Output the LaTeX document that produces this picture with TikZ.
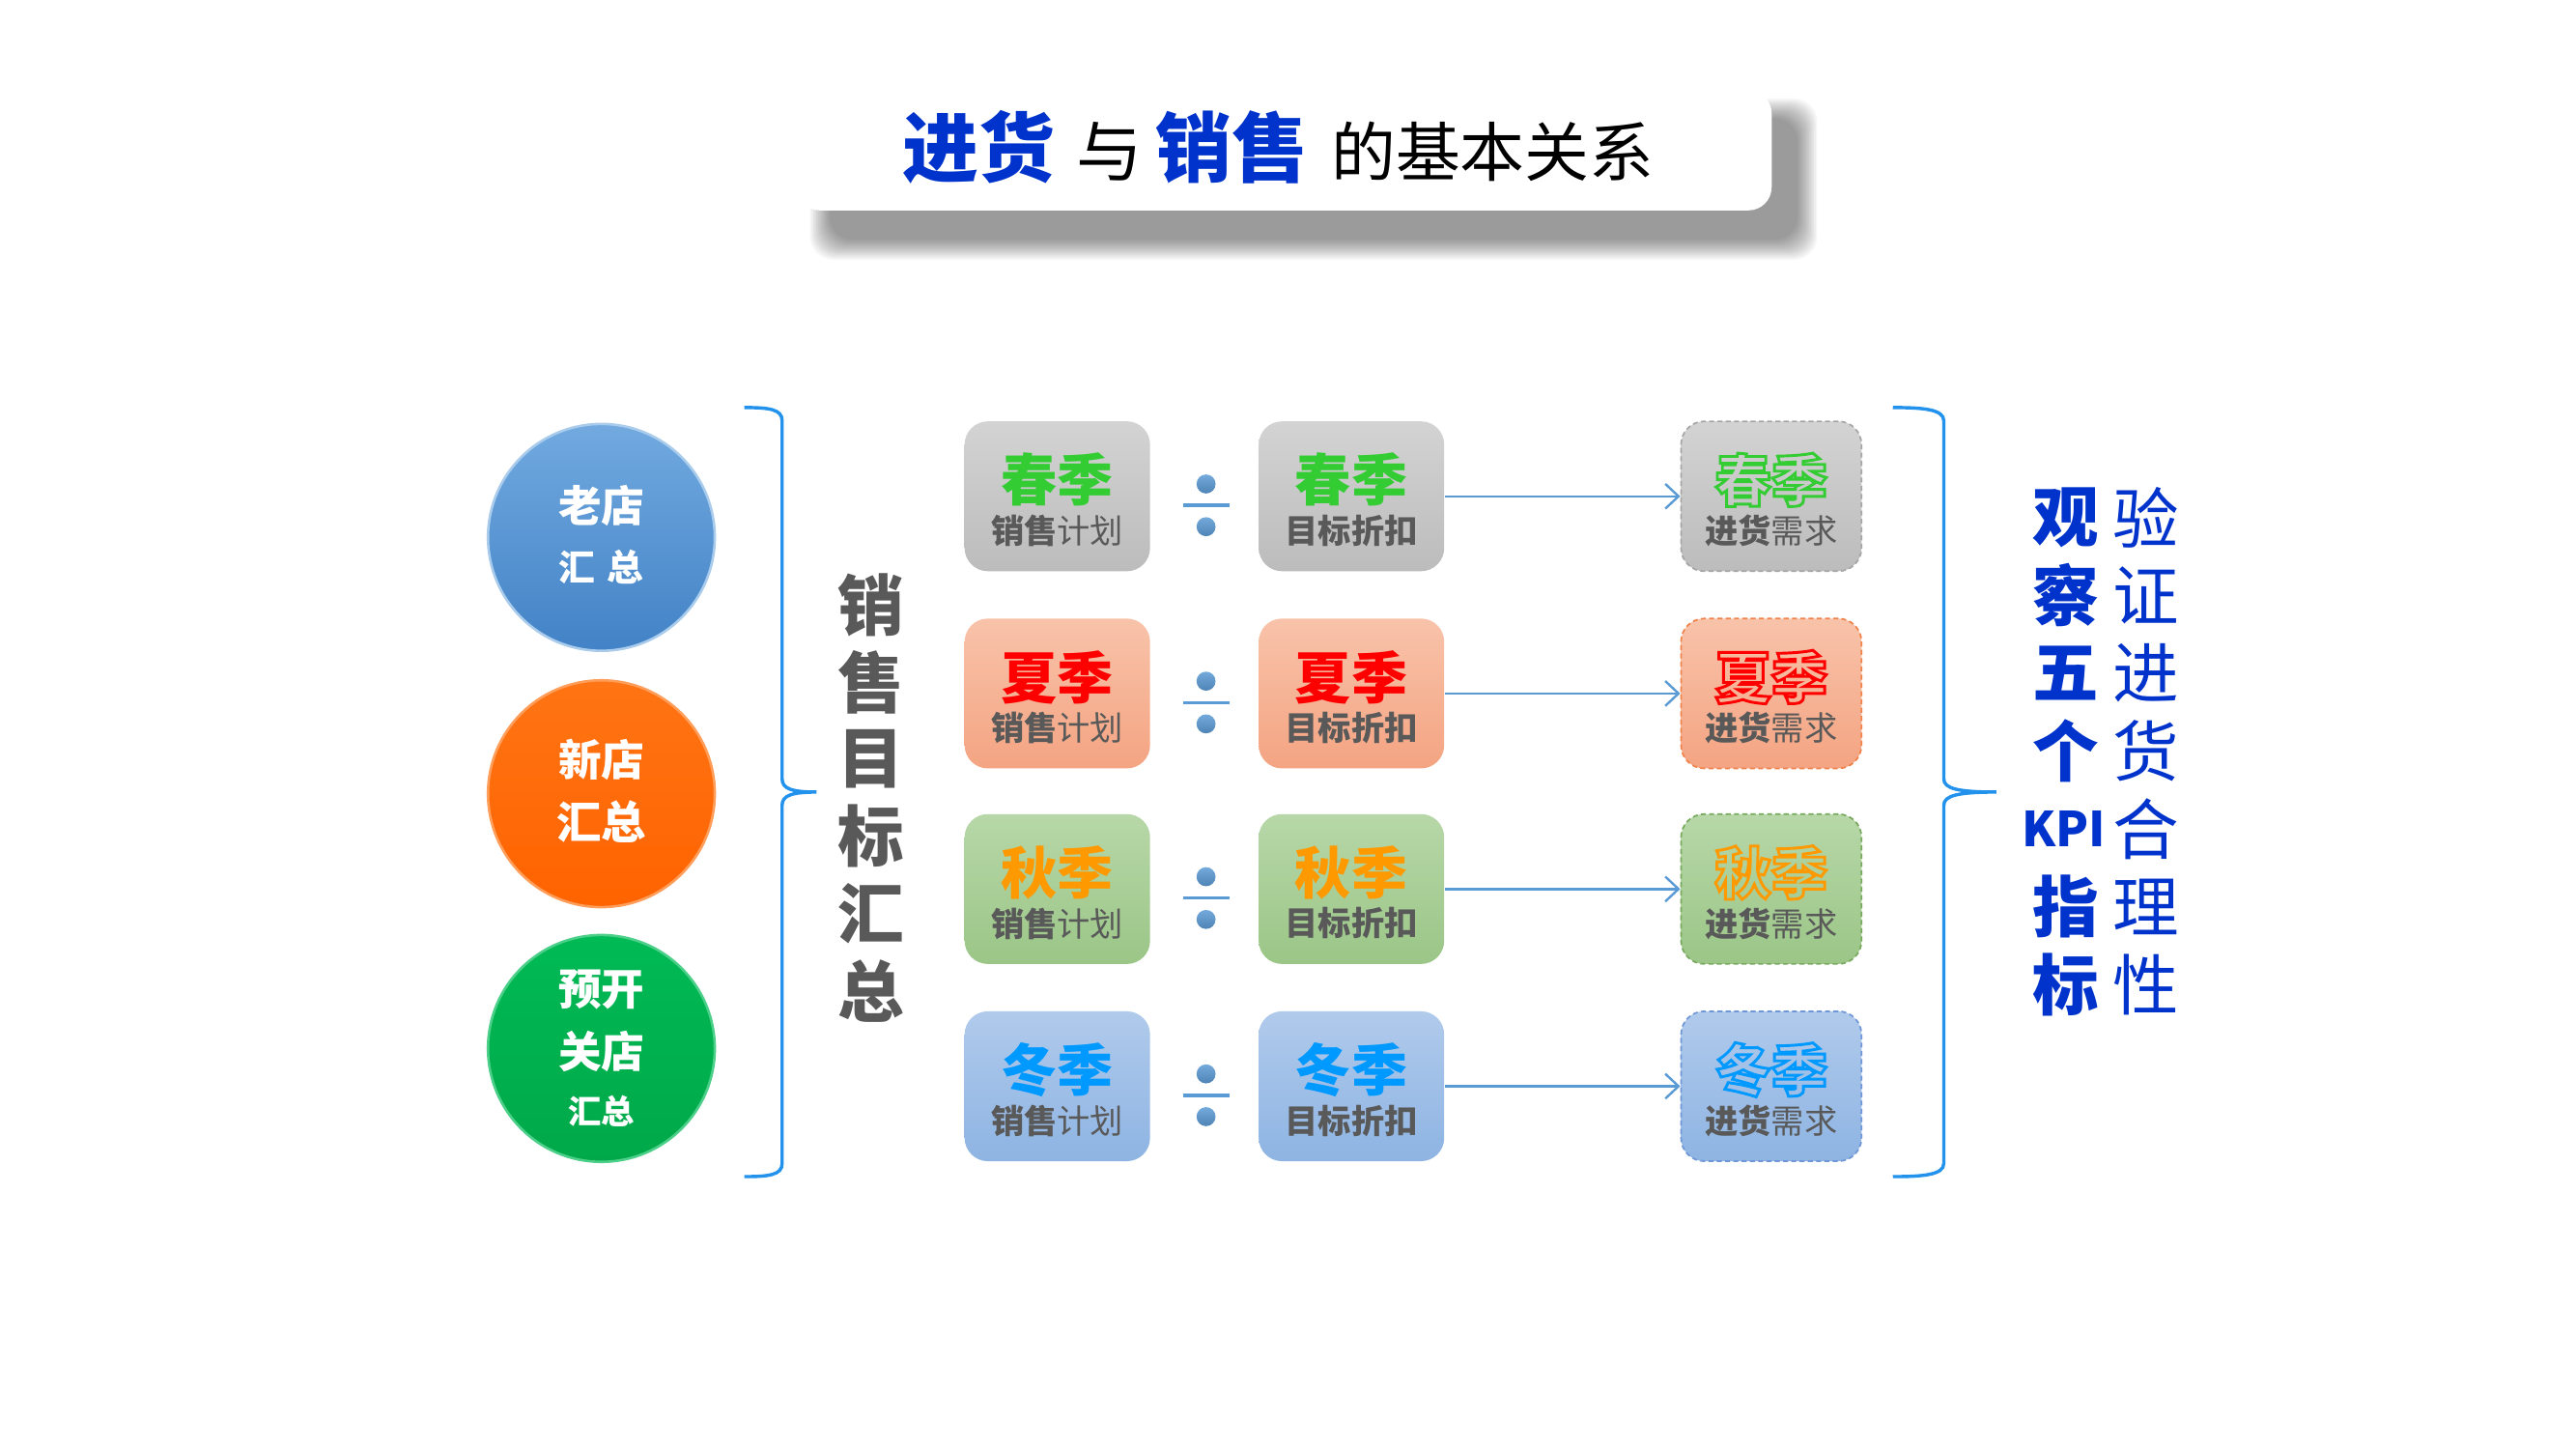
\documentclass[tikz,border=0pt]{standalone}
\usepackage{fontspec}
\setmainfont{Noto Sans CJK SC}
\usetikzlibrary{arrows.meta}
\definecolor{kblue}{HTML}{0033CC}
\definecolor{tgray}{HTML}{595959}
\definecolor{brc}{HTML}{2392EC}
\definecolor{arc}{HTML}{5B9BD5}
\definecolor{gyT}{HTML}{D3D3D3}\definecolor{gyB}{HTML}{BCBCBC}\definecolor{gyD}{HTML}{A6A6A6}
\definecolor{smT}{HTML}{F8C3AA}\definecolor{smB}{HTML}{F4A482}\definecolor{smD}{HTML}{F0834A}
\definecolor{grT}{HTML}{B7D7A8}\definecolor{grB}{HTML}{9BC687}\definecolor{grD}{HTML}{78A95E}
\definecolor{blT}{HTML}{B0CAEB}\definecolor{blB}{HTML}{8EB4E3}\definecolor{blD}{HTML}{6F96D6}
\definecolor{cSpring}{HTML}{33CC33}
\definecolor{cSummer}{HTML}{FF0000}
\definecolor{cAutumn}{HTML}{FF9900}
\definecolor{cWinter}{HTML}{0099FF}
\definecolor{c1T}{HTML}{72AAE0}\definecolor{c1B}{HTML}{4282C6}
\definecolor{c2T}{HTML}{FF7414}\definecolor{c2B}{HTML}{FF6300}
\definecolor{c3T}{HTML}{00BA55}\definecolor{c3B}{HTML}{00A849}
\newcommand\myfs[1]{\fontsize{#1}{#1}\selectfont}
\newcommand\hollowtxt[1]{\special{pdf:literal direct 1 Tr 1.7 w}#1\special{pdf:literal direct 0 Tr 0.3985 w}}
\tikzset{
  sbox/.style={rectangle, rounded corners=14pt, minimum width=112pt, minimum height=90.5pt, inner sep=0pt},
  bigtxt/.style={inner sep=0pt, font=\myfs{34}\bfseries},
  subtxt/.style={inner sep=0pt, font=\myfs{20}, text=tgray},
  ball/.style={circle, minimum size=137pt, inner sep=0pt},
  balltxt/.style={inner sep=0pt, text=white},
  dotc/.style={circle, minimum size=11.5pt, inner sep=0pt, top color=arc!85!white, bottom color=arc!85!black},
  divbar/.style={rectangle, minimum width=28pt, minimum height=2pt, inner sep=0pt, fill=arc},
  arr/.style={draw=arc, line width=1.4pt, -{Straight Barb[length=8pt, width=15pt, line width=1.4pt]}},
  brace/.style={draw=brc, line width=2pt},
  vtxt/.style={inner sep=0pt, font=\myfs{40}\bfseries, text=tgray},
  ktxt/.style={inner sep=0pt, font=\myfs{40}, text=kblue},
}
\begin{document}
\begin{tikzpicture}[x=0.9925pt,y=-0.9925pt]
\useasboundingbox[fill=white] (0,0) rectangle (1567.76,881.61);
% title shadow
\foreach \k in {0,...,12}{
  \fill[black, opacity=0.035, rounded corners=14pt] (493+\k,60+\k) rectangle (1106-\k,158-\k);
}
\node[rectangle, rounded corners=14pt, fill=white, minimum width=589pt, minimum height=72.5pt, inner sep=0pt] (titlebox) at (781.5,91.5) {};
\node[anchor=base west, inner sep=0pt, font=\myfs{46}\bfseries, text=kblue] (t1) at (549,107) {进货};
\node[anchor=base west, inner sep=0pt, font=\myfs{40}, text=black] (t2) at (655,107) {与};
\node[anchor=base west, inner sep=0pt, font=\myfs{46}\bfseries, text=kblue] (t3) at (703,107) {销售};
\node[anchor=base west, inner sep=0pt, font=\myfs{39}, text=black] (t4) at (810,107) {的基本关系};
% circles
\node[ball, top color=c1T, bottom color=c1B, draw=c1T!60!white, line width=1.5pt] (c1) at (366,327) {};
\node[balltxt, font=\myfs{26}\bfseries] (c1a) at (366,308) {老店};
\node[balltxt, font=\myfs{22}\bfseries] (c1b) at (366,345) {汇\hspace{7pt}总};
\node[ball, top color=c2T, bottom color=c2B, draw=c2T!70!white, line width=1.5pt] (c2) at (366,483) {};
\node[balltxt, font=\myfs{26}\bfseries] (c2a) at (366,462) {新店};
\node[balltxt, font=\myfs{27}\bfseries] (c2b) at (366,500) {汇总};
\node[ball, top color=c3T, bottom color=c3B, draw=c3T!70!white, line width=1.5pt] (c3) at (366,638) {};
\node[balltxt, font=\myfs{26}\bfseries] (c3a) at (366,602) {预开};
\node[balltxt, font=\myfs{26}\bfseries] (c3b) at (366,640) {关店};
\node[balltxt, font=\myfs{20}\bfseries] (c3c) at (366,676) {汇总};
% left brace
\draw[brace] (453,248) .. controls (468,248) and (476,249) .. (476,256) -- (476,474)
  .. controls (476,480) and (482,482) .. (497,482)
  .. controls (482,482) and (476,484) .. (476,490) -- (476,708)
  .. controls (476,715) and (468,716) .. (453,716);
% vertical text
\foreach \ch [count=\i from 0] in {销,售,目,标,汇,总}{
  \node[vtxt] (v\i) at (530,368+47*\i) {\ch};
}
% rows
\foreach \r/\yy/\tc/\bc/\dc/\sc/\ss in {1/302/gyT/gyB/gyD/cSpring/春季,2/422/smT/smB/smD/cSummer/夏季,3/541/grT/grB/grD/cAutumn/秋季,4/661/blT/blB/blD/cWinter/冬季}{
  \node[sbox, top color=\tc, bottom color=\bc] (p\r) at (643.5,\yy) {};
  \node[bigtxt, text=\sc] (p\r t) at (643.5,\yy-10) {\ss};
  \node[subtxt] (p\r s) at (643.5,\yy+21) {\textbf{销售}计划};
  \node[dotc] (d\r a) at (734,\yy-7.5) {};
  \node[divbar] (d\r m) at (734,\yy+5.5) {};
  \node[dotc] (d\r b) at (734,\yy+18.5) {};
  \node[sbox, top color=\tc, bottom color=\bc] (q\r) at (822.5,\yy) {};
  \node[bigtxt, text=\sc] (q\r t) at (822.5,\yy-10) {\ss};
  \node[subtxt, font=\myfs{20}\bfseries] (q\r s) at (822.5,\yy+21) {目标折扣};
  \node[sbox, top color=\tc, bottom color=\bc, draw=\dc, line width=1pt, dash pattern=on 3pt off 2pt, minimum width=109pt] (n\r) at (1078,\yy) {};
  \node[bigtxt, text=\sc] (n\r t) at (1078,\yy-10) {\hollowtxt{\ss}};
  \node[subtxt] (n\r s) at (1078,\yy+21) {\textbf{进货}需求};
  \draw[arr] (q\r.east) -- (n\r.west);
}
% right brace
\draw[brace] (1152,248) .. controls (1170,248) and (1183,249) .. (1183,256) -- (1183,474)
  .. controls (1183,480) and (1192,482) .. (1215,482)
  .. controls (1192,482) and (1183,484) .. (1183,490) -- (1183,708)
  .. controls (1183,715) and (1170,716) .. (1152,716);
% right text
\foreach \ch [count=\i from 0] in {观,察,五,个,K,指,标}{
  \ifnum\i=4
    \node[ktxt, font=\myfs{29}\bfseries] (o\i) at (1256,315+47.33*\i) {KPI};
  \else
    \node[ktxt, font=\myfs{40}\bfseries] (o\i) at (1257,315+47.33*\i) {\ch};
  \fi
}
\foreach \ch [count=\i from 0] in {验,证,进,货,合,理,性}{
  \node[ktxt] (w\i) at (1306,315+47.33*\i) {\ch};
}
\end{tikzpicture}
\end{document}
